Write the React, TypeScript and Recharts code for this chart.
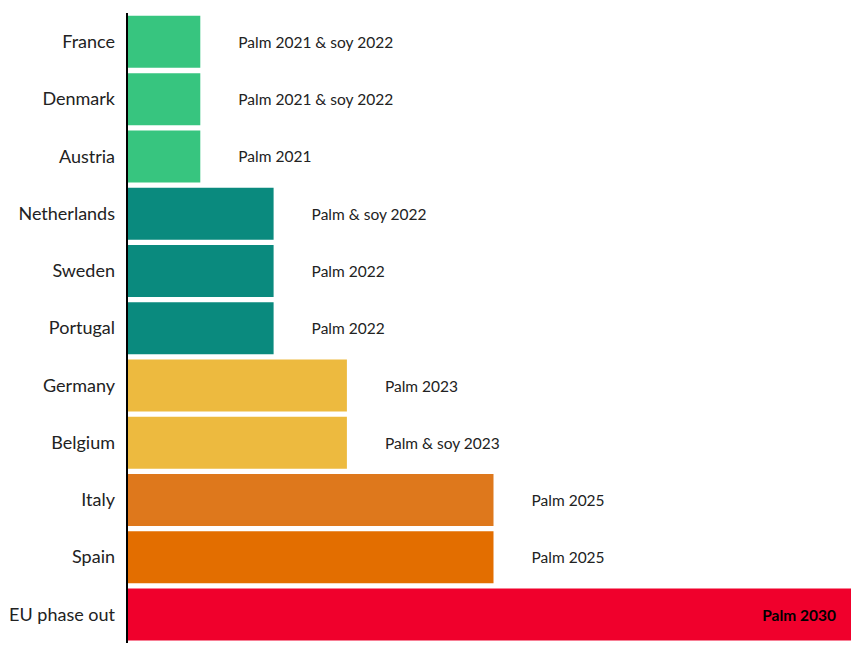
import { BarChart, Bar, XAxis, YAxis, Cell, LabelList } from "recharts";

const countries = [
  "France",
  "Denmark",
  "Austria",
  "Netherlands",
  "Sweden",
  "Portugal",
  "Germany",
  "Belgium",
  "Italy",
  "Spain",
  "EU phase out",
];
const phaseOutYears = [2021, 2021, 2021, 2022, 2022, 2022, 2023, 2023, 2025, 2025, 2030];
const notes = [
  "Palm 2021 & soy 2022",
  "Palm 2021 & soy 2022",
  "Palm 2021",
  "Palm & soy 2022",
  "Palm 2022",
  "Palm 2022",
  "Palm 2023",
  "Palm & soy 2023",
  "Palm 2025",
  "Palm 2025",
  "Palm 2030",
];
const COLORS = [
  "#37c57f", "#37c57f", "#37c57f",
  "#0a8a7e", "#0a8a7e", "#0a8a7e",
  "#edba3f", "#edba3f",
  "#de781c", "#e36e00",
  "#f0002c",
];

const data = countries.map((name, i) => ({
  name,
  year: phaseOutYears[i],
  note: notes[i],
}));

const FONT = "Lato, 'Noto Sans', sans-serif";

function NoteLabel(props: any) {
  const { x, y, width, height, index } = props;
  const last = index === data.length - 1;
  const cy = y + height / 2;
  if (last) {
    return (
      <text
        x={x + width - 24}
        y={cy}
        textAnchor="end"
        dominantBaseline="central"
        fontFamily={FONT}
        fontSize={15.5}
        fontWeight={700}
        fill="#000"
      >
        {data[index].note}
      </text>
    );
  }
  return (
    <text
      x={x + width + 38}
      y={cy}
      textAnchor="start"
      dominantBaseline="central"
      fontFamily={FONT}
      fontSize={15.5}
      fill="#222"
    >
      {data[index].note}
    </text>
  );
}

export default function App() {
  return (
    <div
      style={{
        position: "absolute",
        left: 0,
        top: 0,
        width: 851,
        height: 645,
        overflow: "hidden",
        background: "#fff",
      }}
    >
      <BarChart
        width={860}
        height={645}
        data={data}
        layout="vertical"
        margin={{ top: 13, right: 0, bottom: 2, left: 0 }}
        barCategoryGap="5%"
      >
        <XAxis type="number" domain={[2020, 2030]} hide />
        <YAxis
          type="category"
          dataKey="name"
          width={127}
          tickLine={false}
          tickMargin={6}
          axisLine={{ stroke: "#000", strokeWidth: 2 }}
          tick={{ fontFamily: FONT, fontSize: 18, fill: "#222" }}
        />
        <Bar dataKey="year" isAnimationActive={false}>
          {data.map((_, idx) => (
            <Cell key={idx} fill={COLORS[idx]} />
          ))}
          <LabelList dataKey="note" content={NoteLabel} />
        </Bar>
      </BarChart>
    </div>
  );
}
